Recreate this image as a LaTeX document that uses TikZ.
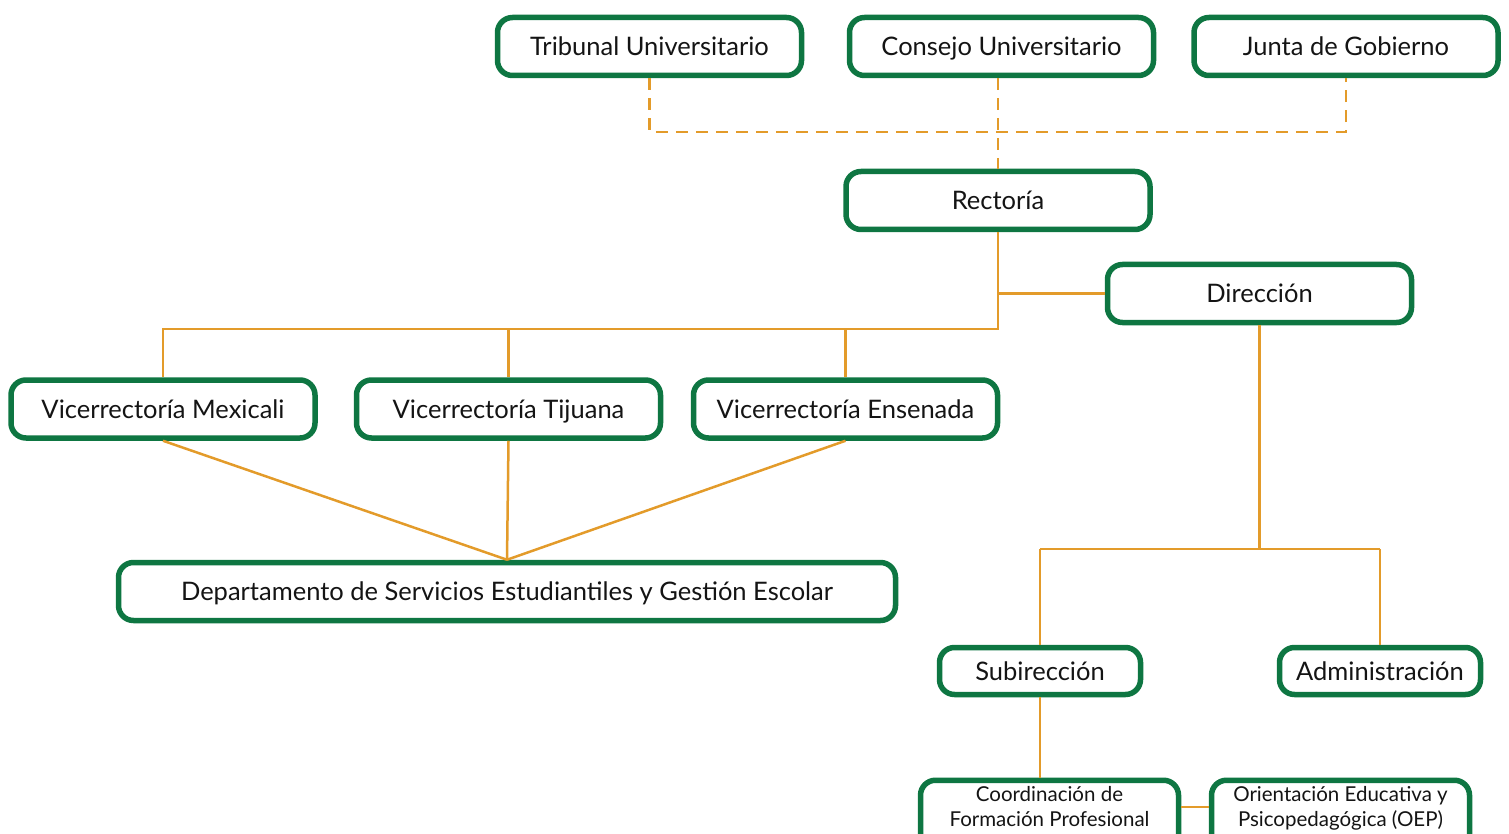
\documentclass[tikz,border=0pt]{standalone}
\usepackage{fontspec}
\setmainfont{Lato}
\definecolor{boxgreen}{RGB}{14,118,66}
\definecolor{linkorange}{RGB}{227,155,42}
\definecolor{txt}{RGB}{20,20,20}
\begin{document}
\begin{tikzpicture}[x=1pt,y=-1pt,
  orgbox/.style={draw=boxgreen, line width=5.5pt, rounded corners=15pt, fill=white,
    text=txt, font=\fontsize{25.5}{30}\selectfont, inner sep=0pt,
    text height=18pt, text depth=0pt,
    minimum width=304pt, minimum height=58pt, align=center},
  smallbox/.style={draw=boxgreen, line width=5.5pt, rounded corners=15pt, fill=white,
    text=txt, font=\fontsize{20.5}{25}\selectfont, inner xsep=0pt, inner ysep=3.5pt,
    minimum width=258pt, align=center, anchor=north},
  link/.style={draw=linkorange, line width=2.5pt},
  dlink/.style={link, dash pattern=on 12pt off 8pt}]
\useasboundingbox (0,0) rectangle (1509,834);
% nodes
\node[orgbox] (trib) at (649.5,46.5) {Tribunal Universitario};
\node[orgbox] (cons) at (1001.5,46.5) {Consejo Universitario};
\node[orgbox] (junta) at (1346,46.5) {Junta de Gobierno};
\node[orgbox] (rect) at (998,200.5) {Rectoría};
\node[orgbox] (dir) at (1259.5,293.5) {Dirección};
\node[orgbox] (vmex) at (163,409) {Vicerrectoría Mexicali};
\node[orgbox] (vtij) at (508.5,409) {Vicerrectoría Tijuana};
\node[orgbox] (vens) at (845.5,409) {Vicerrectoría Ensenada};
\node[orgbox, minimum width=777pt] (dept) at (507,591.5) {Departamento de Servicios Estudiantiles y Gestión Escolar};
\node[orgbox, minimum width=201pt, minimum height=47pt] (sub) at (1040,671) {Subirección};
\node[orgbox, minimum width=201pt, minimum height=47pt] (adm) at (1380,671) {Administración};
\node[smallbox] (coord) at (1049.5,777.5) {\strut Coordinación de\\\strut Formación Profesional\\\strut};
\node[smallbox] (oep) at (1340.5,777.5) {\strut Orientación Educativa y\\\strut Psicopedagógica (OEP)\\\strut};
% coordinates
\coordinate (dbus) at (998,132);
\coordinate (rbus) at (998,329);
\coordinate (dirbus) at (1259.5,549);
\coordinate (oepbus) at (0,807);
% connectors
\path[dlink] (trib.south) -- (trib.south |- dbus) -- (junta.south |- dbus) -- (junta.south);
\path[dlink] (rect.north |- cons.south) -- (rect.north);
\path[link] (rect.south) -- (rbus) -| (vmex.north);
\path[link] (rbus) -| (vtij.north);
\path[link] (rbus) -| (vens.north);
\path[link] (rect.south |- dir.west) -- (dir.west);
\path[link] (vmex.south) -- (dept.north);
\path[link] (vtij.south) -- (dept.north);
\path[link] (vens.south) -- (dept.north);
\path[link] (dir.south) -- (dirbus);
\path[link] (sub.north |- dirbus) -- (adm.north |- dirbus);
\path[link] (sub.north |- dirbus) -- (sub.north);
\path[link] (adm.north |- dirbus) -- (adm.north);
\path[link] (sub.south) -- (sub.south |- coord.north);
\path[link] (coord.east |- oepbus) -- (oep.west |- oepbus);
\end{tikzpicture}
\end{document}
